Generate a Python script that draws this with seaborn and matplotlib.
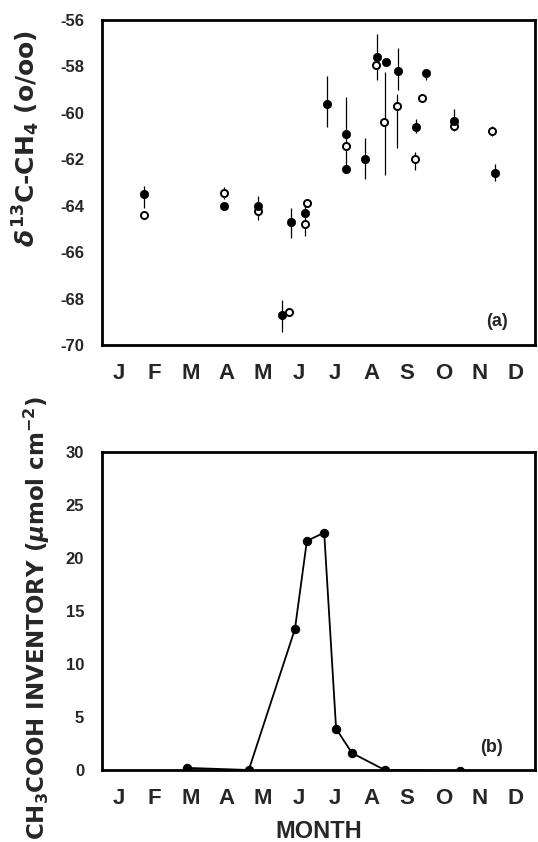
import matplotlib
matplotlib.use("Agg")
import matplotlib.pyplot as plt
import seaborn as sns
import pandas as pd
import numpy as np

sns.set_theme(style="white")
plt.rcParams['font.family'] = ['Liberation Sans', 'DejaVu Sans']
plt.rcParams['font.weight'] = 'bold'
plt.rcParams['mathtext.fontset'] = 'custom'
plt.rcParams['mathtext.rm'] = 'DejaVu Sans:bold'
plt.rcParams['mathtext.bf'] = 'DejaVu Sans:bold'
plt.rcParams['mathtext.it'] = 'DejaVu Sans:bold:italic'

# ---- data (month as fractional position, 0 = start of January) ----
month_labels = ["J", "F", "M", "A", "M", "J", "J", "A", "S", "O", "N", "D"]

# panel (a) filled circles
filled_month = [1.16, 3.37, 4.32, 4.97, 5.23, 5.61, 6.24, 6.75, 6.75, 7.27, 7.62, 7.85, 8.20, 8.70, 8.97, 9.74, 10.87]
filled_d13c = [-63.5, -64.0, -64.0, -68.7, -64.7, -64.3, -59.6, -60.9, -62.4, -62.0, -57.6, -57.8, -58.2, -60.6, -58.3, -60.35, -62.6]

# panel (a) open circles
open_month = [1.16, 3.37, 4.32, 5.17, 5.61, 5.68, 6.75, 7.58, 7.81, 8.17, 8.66, 8.86, 9.74, 10.80]
open_d13c = [-64.4, -63.45, -64.25, -68.6, -64.8, -63.9, -61.45, -57.95, -60.4, -59.7, -62.0, -59.35, -60.55, -60.8]

# panel (a) error bars (low / high)
bar_month = [1.16, 3.37, 4.32, 4.97, 5.23, 5.61, 6.24, 6.75, 7.27, 7.62, 7.83, 8.19, 8.17, 8.70, 8.66, 8.97, 9.74, 10.80, 10.87]
bar_low = [-64.1, -63.7, -64.6, -69.45, -65.4, -65.3, -60.6, -62.6, -62.85, -58.6, -62.7, -59.0, -61.5, -60.85, -62.45, -58.6, -60.8, -61.0, -62.95]
bar_high = [-63.15, -63.2, -63.6, -68.05, -64.1, -63.95, -58.4, -59.3, -61.1, -56.6, -58.25, -57.2, -59.2, -60.25, -61.7, -58.3, -59.85, -60.55, -62.2]

# panel (b) CH3COOH inventory
inv_month = [2.35, 4.06, 5.34, 5.67, 6.15, 6.48, 6.92, 7.83, 9.90]
inv_value = [0.2, 0.0, 13.3, 21.6, 22.4, 3.9, 1.6, 0.0, -0.1]

# ---- figure ----
fig = plt.figure(figsize=(5.38, 8.42), dpi=100)
ax1 = fig.add_axes([0.19, 0.5903, 0.805, 0.3860])
ax2 = fig.add_axes([0.19, 0.0855, 0.805, 0.3777])

df_f = pd.DataFrame({"month": filled_month, "d13c": filled_d13c})
df_o = pd.DataFrame({"month": open_month, "d13c": open_d13c})

ax1.vlines(bar_month, bar_low, bar_high, color="black", linewidth=0.9, zorder=1)
sns.scatterplot(data=df_o, x="month", y="d13c", ax=ax1, marker="o", s=26,
                facecolor="white", edgecolor="black", linewidth=1.4, zorder=2)
sns.scatterplot(data=df_f, x="month", y="d13c", ax=ax1, marker="o", s=36,
                color="black", edgecolor="black", linewidth=0.5, zorder=3)

ax1.set_xlim(0, 12)
ax1.set_ylim(-70, -56)
ax1.set_yticks(np.arange(-70, -55, 2))
ax1.set_yticklabels([f"{v:d}" for v in range(-70, -55, 2)])
ax1.set_ylabel(r"$\it{\delta}^{13}$C-CH$_4$ (o/oo)", fontsize=18,
               fontweight="bold", family=["DejaVu Sans"])
ax1.yaxis.set_label_coords(-0.14, 0.637)
ax1.set_xlabel("")
ax1.text(0.937, 0.072, "(a)", transform=ax1.transAxes, ha="right", va="center",
         fontsize=13, fontweight="bold")

df_b = pd.DataFrame({"month": inv_month, "inv": inv_value})
sns.lineplot(data=df_b, x="month", y="inv", ax=ax2, color="black", linewidth=1.3,
             marker="o", markersize=6, markeredgecolor="black", markerfacecolor="black")
ax2.set_xlim(0, 12)
ax2.set_ylim(0, 30)
ax2.set_yticks(np.arange(0, 31, 5))
ax2.set_ylabel(r"CH$_3$COOH INVENTORY ($\it{\mu}$mol cm$^{-2}$)", fontsize=16.5,
               fontweight="bold", family=["DejaVu Sans"])
ax2.yaxis.set_label_coords(-0.115, 0.478)
ax2.set_xlabel("MONTH", fontsize=17, fontweight="bold", labelpad=8)
ax2.text(0.926, 0.072, "(b)", transform=ax2.transAxes, ha="right", va="center",
         fontsize=13, fontweight="bold")

for ax in (ax1, ax2):
    ax.set_xticks(np.arange(1, 12))
    ax.set_xticklabels([])
    ax.set_xticks(np.arange(12) + 0.45, minor=True)
    ax.set_xticklabels(month_labels, minor=True, fontsize=16, fontweight="bold")
    ax.tick_params(axis="x", which="major", direction="in", length=5, width=1, color="black")
    ax.tick_params(axis="x", which="minor", length=0, pad=13)
    ax.tick_params(axis="y", direction="in", length=4, width=1, color="black",
                   labelsize=12, pad=13)
    for lab in ax.get_yticklabels():
        lab.set_fontweight("bold")
    for s in ax.spines.values():
        s.set_color("black")
        s.set_linewidth(2)
        s.set_visible(True)
    ax.grid(False)

fig.savefig("out.png", dpi=100)
